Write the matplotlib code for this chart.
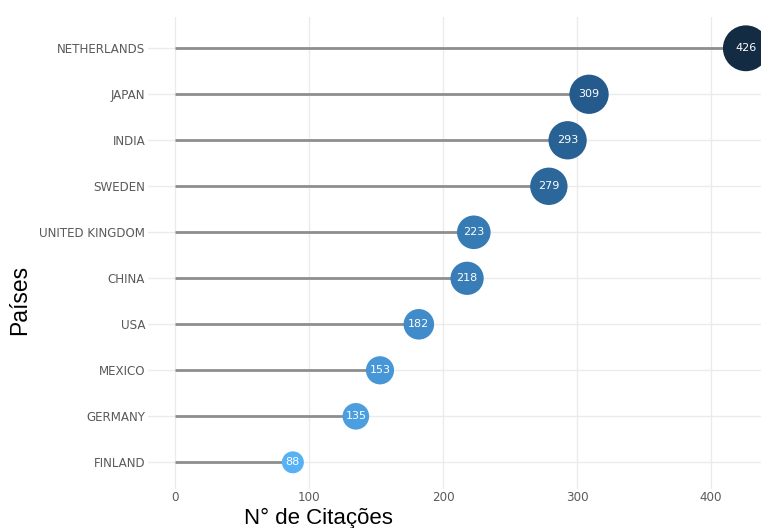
import matplotlib
matplotlib.use("Agg")
import matplotlib.pyplot as plt
import numpy as np
from matplotlib.colors import LinearSegmentedColormap, Normalize

countries = ["NETHERLANDS", "JAPAN", "INDIA", "SWEDEN", "UNITED KINGDOM",
             "CHINA", "USA", "MEXICO", "GERMANY", "FINLAND"]
citations = [426, 309, 293, 279, 223, 218, 182, 153, 135, 88]
x_ticks = [0, 100, 200, 300, 400]

W, H = 761, 528
fig = plt.figure(figsize=(W / 100, H / 100), dpi=100)
ax = fig.add_axes([148 / W, 1 - 489 / H, 1 - 148 / W, (489 - 17) / H])

n = len(countries)
ypos = np.arange(n)[::-1]  # top = first

cmap = LinearSegmentedColormap.from_list("gg", ["#56B1F7", "#3C83C0", "#245A8A", "#132B43"])
norm = Normalize(min(citations), max(citations))
vals = np.array(citations, dtype=float)
sizes = 31 + 2.485 * vals

for y, v in zip(ypos, citations):
    ax.plot([0, v], [y, y], color="#8e8e8e", lw=2.0, solid_capstyle="butt", zorder=2)
ax.scatter(citations, ypos, s=sizes, c=cmap(norm(vals)), zorder=3, linewidths=0, clip_on=False)
for y, v in zip(ypos, citations):
    ax.text(v, y, str(v), ha="center", va="center", color="white", fontsize=8,
            family="DejaVu Sans", zorder=4)

ax.set_xlim(-20.1, 437.3)
ax.set_ylim(-0.58, n - 1 + 0.68)
ax.set_xticks(x_ticks)
ax.set_xticklabels([str(t) for t in x_ticks])
ax.set_yticks(ypos)
ax.set_yticklabels(countries)
ax.tick_params(axis="both", length=0, labelsize=8.6, labelcolor="#5a5a5a", pad=2)
ax.tick_params(axis="x", pad=1.5)
for s in ax.spines.values():
    s.set_visible(False)
ax.grid(True, color="#ebebeb", lw=1.0, zorder=0)
ax.set_axisbelow(True)

fig.text(318 / W, 1 - 518 / H, "N° de Citações", fontsize=16, family="Liberation Sans",
         ha="center", va="center")
fig.text(20 / W, 1 - 300 / H, "Países", fontsize=16.5, family="Liberation Sans",
         ha="center", va="center", rotation=90)

fig.savefig("out.png", dpi=100)
